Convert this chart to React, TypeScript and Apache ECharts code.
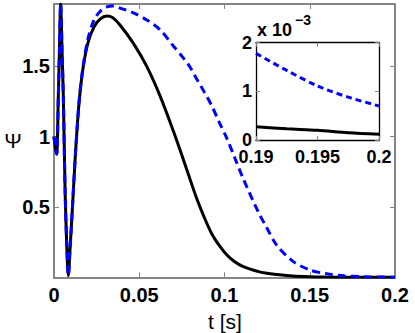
import React, { useEffect, useRef } from "react";
import * as echarts from "echarts";

// main plot data (t in seconds)
const mainT = [
  0, 0.0008, 0.0016, 0.0025, 0.0032, 0.0039, 0.0047, 0.0055, 0.0065, 0.0075,
  0.0084, 0.0095, 0.0107, 0.0122, 0.0135, 0.015, 0.0172, 0.02, 0.0235, 0.027,
  0.031, 0.0345, 0.0387, 0.0465, 0.0544, 0.0622, 0.07, 0.0758, 0.08, 0.0837,
  0.088, 0.0925, 0.097, 0.1013, 0.106, 0.111, 0.12, 0.124, 0.1306, 0.14,
  0.15, 0.16, 0.17, 0.18, 0.19, 0.2,
];
const blackMain = [
  1.0, 0.92, 0.876, 1.27, 1.62, 1.943, 1.62, 1.27, 0.62, 0.22,
  0.012, 0.22, 0.47, 0.8, 1.05, 1.28, 1.5, 1.67, 1.78, 1.835,
  1.857, 1.845, 1.794, 1.665, 1.5, 1.29, 1.04, 0.84, 0.69, 0.56,
  0.43, 0.31, 0.225, 0.16, 0.11, 0.076, 0.04, 0.03, 0.02, 0.009,
  0.004, 0.0018, 0.0008, 0.0004, 0.00027, 0.00012,
];
const blueMain = [
  1.0, 0.92, 0.876, 1.27, 1.62, 1.943, 1.62, 1.27, 0.62, 0.22,
  0.012, 0.22, 0.47, 0.8, 1.05, 1.29, 1.51, 1.7, 1.83, 1.89,
  1.922, 1.928, 1.914, 1.88, 1.83, 1.76, 1.645, 1.56, 1.49, 1.41,
  1.32, 1.22, 1.1, 0.99, 0.85, 0.7, 0.46, 0.37, 0.229, 0.115,
  0.052, 0.025, 0.011, 0.0045, 0.0018, 0.0007,
];
const xTicks = [0, 0.05, 0.1, 0.15, 0.2];
const yTicks = [0.5, 1, 1.5];

// inset data (values in units of 1e-3)
const insetT = [0.19, 0.1925, 0.195, 0.1975, 0.2];
const blackInset = [0.27, 0.23, 0.2, 0.15, 0.12];
const blueInset = [1.78, 1.43, 1.11, 0.88, 0.7];
const insetXTicks = [0.19, 0.195, 0.2];
const insetYTicks = [0, 1, 2];

const GRAY = "#858585";
const FONT = "Liberation Sans, Arial, sans-serif";

export default function App() {
  const ref = useRef<HTMLDivElement>(null);
  useEffect(() => {
    if (!ref.current) return;
    const chart = echarts.init(ref.current, null, { renderer: "svg" });
    const lbl = { fontFamily: FONT, fontWeight: "bold", fontSize: 20, color: "#000" };
    const ilbl = { fontFamily: FONT, fontWeight: "bold", fontSize: 18, lineHeight: 13, color: "#000" };
    const mainX = (pos: string, show: boolean) => ({
      type: "value", gridIndex: 0, position: pos, min: 0, max: 0.2, interval: 0.05,
      axisLine: { show: true, onZero: false, lineStyle: { color: GRAY, width: 2 } },
      axisTick: { show: true, inside: true, length: 5, customValues: xTicks, lineStyle: { color: GRAY, width: 1 } },
      axisLabel: { show, margin: 8, customValues: xTicks, ...lbl },
      splitLine: { show: false },
    });
    const mainY = (pos: string, show: boolean) => ({
      type: "value", gridIndex: 0, position: pos, min: 0, max: 1.943,
      axisLine: { show: true, onZero: false, lineStyle: { color: GRAY, width: 2 } },
      axisTick: { show: true, inside: true, length: 5, customValues: yTicks, lineStyle: { color: GRAY, width: 1 } },
      axisLabel: { show, margin: 4, customValues: yTicks, ...lbl },
      splitLine: { show: false },
    });
    const insX = (pos: string, show: boolean) => ({
      type: "value", gridIndex: 1, position: pos, min: 0.19, max: 0.2, z: 10,
      axisLine: { show: true, onZero: false, lineStyle: { color: "#000", width: 1.3 } },
      axisTick: { show: true, inside: true, length: 4, customValues: insetXTicks, lineStyle: { color: GRAY, width: 1 } },
      axisLabel: { show, margin: 10, customValues: insetXTicks, ...ilbl },
      splitLine: { show: false },
    });
    const insY = (pos: string, show: boolean) => ({
      type: "value", gridIndex: 1, position: pos, min: 0, max: 2, z: 10,
      axisLine: { show: true, onZero: false, lineStyle: { color: "#000", width: 1.3 } },
      axisTick: { show: true, inside: true, length: 4, customValues: insetYTicks, lineStyle: { color: GRAY, width: 1 } },
      axisLabel: { show, margin: 4, customValues: insetYTicks, ...ilbl },
      splitLine: { show: false },
    });
    const option = {
      animation: false,
      grid: [
        { left: 54, top: 4, right: 20, bottom: 55.7 },
        { left: 256, top: 42.7, right: 36, bottom: 193 },
      ],
      xAxis: [mainX("bottom", true), mainX("top", false), insX("bottom", true), insX("top", false)],
      yAxis: [mainY("left", true), mainY("right", false), insY("left", true), insY("right", false)],
      graphic: [
        { type: "rect", z: 5, shape: { x: 256, y: 42.7, width: 123, height: 97.3 }, style: { fill: "#fff" } },
        { type: "text", z: 12, x: 225, y: 321, style: { text: "t [s]", fontFamily: FONT, fontSize: 21, fill: "#000", textAlign: "center", textVerticalAlign: "middle" } },
        { type: "text", z: 12, x: 13, y: 140, style: { text: "Ψ", fontFamily: FONT, fontSize: 21, fill: "#000", textAlign: "center", textVerticalAlign: "middle" } },
        { type: "text", z: 12, x: 257, y: 30, style: { text: "x 10", fontFamily: FONT, fontWeight: "bold", fontSize: 18, fill: "#000", textAlign: "left", textVerticalAlign: "middle" } },
        { type: "text", z: 12, x: 295, y: 20, style: { text: "−3", fontFamily: FONT, fontWeight: "bold", fontSize: 14, fill: "#000", textAlign: "left", textVerticalAlign: "middle" } },
      ],
      series: [
        {
          type: "line", xAxisIndex: 0, yAxisIndex: 0, z: 2, showSymbol: false, smooth: 0.3,
          data: mainT.map((t, i) => [t, blackMain[i]]),
          lineStyle: { color: "#000", width: 3 },
        },
        {
          type: "line", xAxisIndex: 0, yAxisIndex: 0, z: 3, showSymbol: false, smooth: 0.3,
          data: mainT.map((t, i) => [t, blueMain[i]]),
          lineStyle: { color: "#0000ff", width: 3, type: [8, 5] },
        },
        {
          type: "line", xAxisIndex: 2, yAxisIndex: 2, z: 10, showSymbol: false, smooth: 0.3,
          data: insetT.map((t, i) => [t, blackInset[i]]),
          lineStyle: { color: "#000", width: 3 },
        },
        {
          type: "line", xAxisIndex: 2, yAxisIndex: 2, z: 10, showSymbol: false, smooth: 0.3,
          data: insetT.map((t, i) => [t, blueInset[i]]),
          lineStyle: { color: "#0000ff", width: 3, type: [6, 4] },
        },
      ],
    };
    chart.setOption(option as any);
    return () => chart.dispose();
  }, []);
  return <div ref={ref} style={{ width: 415, height: 333, position: "absolute", left: 0, top: 0 }} />;
}
